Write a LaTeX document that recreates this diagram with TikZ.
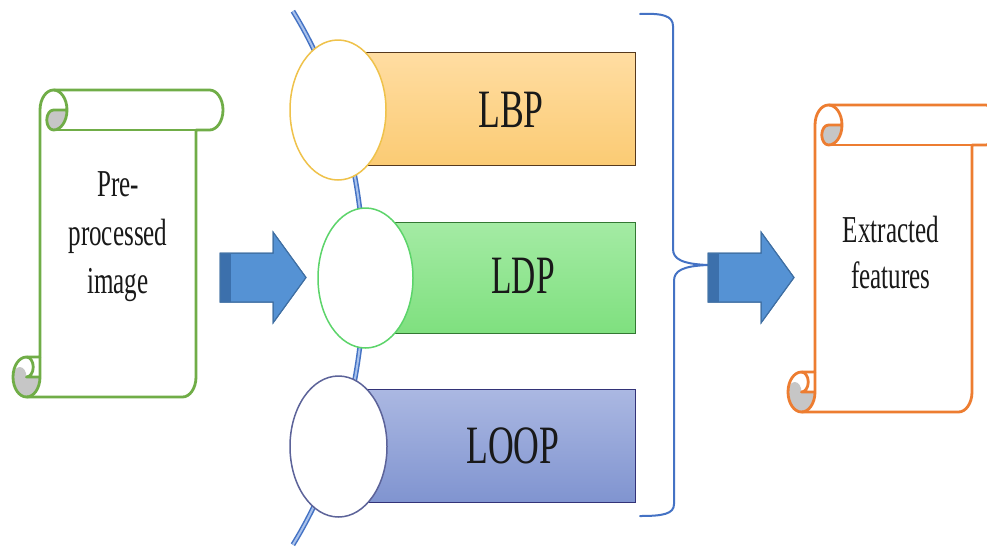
\documentclass[tikz,border=0pt]{standalone}
\usepackage{fontspec}
\setmainfont{Liberation Serif}
\usetikzlibrary{shapes.geometric}

\definecolor{scrollgreen}{HTML}{70AD47}
\definecolor{scrollorange}{HTML}{ED7D31}
\definecolor{curlgray}{HTML}{C6C6C6}
\definecolor{arrowblue}{HTML}{5592D4}
\definecolor{arrowedge}{HTML}{3F6FA3}
\definecolor{arrowdark}{HTML}{3C70AC}
\definecolor{listblue}{HTML}{4472C4}
\definecolor{listlight}{HTML}{A9C2EC}
\definecolor{lbptop}{HTML}{FFDDA2}
\definecolor{lbpbot}{HTML}{FBCB74}
\definecolor{ldptop}{HTML}{A4EBA4}
\definecolor{ldpbot}{HTML}{7FE07F}
\definecolor{looptop}{HTML}{ABB8E2}
\definecolor{loopbot}{HTML}{8094D0}
\definecolor{ringyellow}{HTML}{EFC24B}
\definecolor{ringgreen}{HTML}{5CD46A}
\definecolor{ringblue}{HTML}{5C6399}

\tikzset{
  scrollline/.style={draw=#1, line width=2.8pt, line join=round},
  ring/.style={ellipse, draw=#1, line width=1.5pt, fill=white, inner sep=0pt,
    minimum width=96pt, minimum height=140pt},
  listbar/.style n args={3}{draw=#1, line width=1pt, top color=#2, bottom color=#3},
  listlabel/.style={font=\fontsize{54}{60}\selectfont, inner sep=0pt, text=black!90},
  scrolltext/.style={font=\fontsize{38}{48.5}\selectfont, inner sep=0pt, text=black!90},
  blockarrow/.style={fill=arrowblue, draw=arrowedge, line width=1pt, line join=miter},
  bracket/.style={draw=listblue, line width=2pt, line cap=round},
}

% vertical scroll: left, top, width, height, colour (pixel units, y downwards)
\newcommand\drawscroll[5]{%
  \begin{scope}[shift={(#1,#2)}]
    \def\scrW{#3}\def\scrH{#4}%
    \def\scrA{27}\def\scrAh{13.5}\def\scrAq{6.75}%
    \def\scrC{40}\def\scrCh{20}\def\scrCq{10}%
    % paper
    \fill[white] (\scrAh,\scrH) arc[start angle=90,end angle=0,x radius=\scrAh,y radius=\scrCh]
      -- (\scrA,\scrCh) arc[start angle=180,end angle=270,x radius=\scrAh,y radius=\scrCh]
      -- (\scrW-\scrAh,0) arc[start angle=270,end angle=450,x radius=\scrAh,y radius=\scrCh]
      -- (\scrW-\scrA,\scrC) -- (\scrW-\scrA,\scrH-\scrCh)
      arc[start angle=0,end angle=90,x radius=\scrAh,y radius=\scrCh] -- cycle;
    \fill[white] (\scrAh,\scrH-\scrCh) ellipse[x radius=\scrAh,y radius=\scrCh];
    % shaded curls
    \fill[curlgray] (2*\scrA,\scrCh) arc[start angle=0,end angle=90,x radius=\scrAh,y radius=\scrCh]
      arc[start angle=90,end angle=270,x radius=\scrAq,y radius=\scrCq] -- cycle;
    \fill[curlgray] (\scrA,\scrH-\scrCh) arc[start angle=0,end angle=180,x radius=\scrAh,y radius=\scrCh]
      arc[start angle=180,end angle=360,x radius=\scrAq,y radius=\scrCq] -- cycle;
    % outline
    \draw[scrollline=#5] (\scrA,\scrH-\scrC) -- (\scrA,\scrCh)
      arc[start angle=180,end angle=270,x radius=\scrAh,y radius=\scrCh]
      -- (\scrW-\scrAh,0) arc[start angle=270,end angle=450,x radius=\scrAh,y radius=\scrCh]
      -- (\scrW-\scrA,\scrC) -- (\scrW-\scrA,\scrH-\scrCh)
      arc[start angle=0,end angle=90,x radius=\scrAh,y radius=\scrCh]
      -- (\scrAh,\scrH) arc[start angle=90,end angle=270,x radius=\scrAh,y radius=\scrCh] -- cycle;
    \draw[scrollline=#5] (1.5*\scrA,0) arc[start angle=270,end angle=450,x radius=\scrAh,y radius=\scrCh]
      arc[start angle=90,end angle=270,x radius=\scrAq,y radius=\scrCq] -- (2*\scrA,\scrCh);
    \draw[scrollline=#5] (\scrW-\scrA,\scrC) -- (1.5*\scrA,\scrC);
    \draw[scrollline=#5] (\scrAh,\scrH-\scrC) arc[start angle=270,end angle=450,x radius=\scrAq,y radius=\scrCq]
      -- (\scrA,\scrH-\scrCh);
    \draw[scrollline=#5] (\scrAh,\scrH) arc[start angle=90,end angle=0,x radius=\scrAh,y radius=\scrCh]
      -- (\scrA,\scrH-\scrC);
  \end{scope}}

% block arrow: left end, vertical centre
\newcommand\drawblockarrow[2]{%
  \filldraw[blockarrow] (#1,#2-24.5) -- (#1+53,#2-24.5) -- (#1+53,#2-45.5) -- (#1+86,#2)
    -- (#1+53,#2+45.5) -- (#1+53,#2+24.5) -- (#1,#2+24.5) -- cycle;
  \fill[arrowdark] (#1+0.5,#2-24) rectangle (#1+11,#2+24);
  \draw[blockarrow, fill=none] (#1,#2-24.5) -- (#1+53,#2-24.5) -- (#1+53,#2-45.5) -- (#1+86,#2)
    -- (#1+53,#2+45.5) -- (#1+53,#2+24.5) -- (#1,#2+24.5) -- cycle;}

\begin{document}
\begin{tikzpicture}[x=1pt, y=-1pt]
  \useasboundingbox (0,0) rectangle (987,547);
  \clip (0,0) rectangle (987,547);
  \fill[white] (0,0) rectangle (987,547);

  % input and output scrolls
  \drawscroll{13}{90}{210}{307}{scrollgreen}
  \drawscroll{788}{105}{211}{307}{scrollorange}
  \node[scrolltext] (prep) at (118,235.3)
    {\scalebox{0.66}[1]{\begin{tabular}{@{}c@{}}Pre-\\processed\\image\end{tabular}}};
  \node[scrolltext] (feat) at (891,255.8)
    {\scalebox{0.66}[1]{\fontsize{38}{46}\selectfont\begin{tabular}{@{}c@{}}Extracted\\features\end{tabular}}};

  % spine of the vertical circle list
  \draw[listblue, line width=1.5pt, double=listlight, double distance=2pt]
    (292.9,11.2) arc[start angle=-40, end angle=40, x radius=304, y radius=415];

  % bars
  \path[listbar={black!55!brown}{lbptop}{lbpbot}] (338,52) rectangle (635,165);
  \path[listbar={black!55!green!60!gray}{ldptop}{ldpbot}] (365.5,222) rectangle (635,333);
  \path[listbar={black!55!blue!60!gray}{looptop}{loopbot}] (338.5,389) rectangle (635,502);

  % circles
  \node[ring=ringyellow] (c1) at (338,110) {};
  \node[ring=ringgreen, minimum width=95pt] (c2) at (365.5,278) {};
  \node[ring=ringblue, minimum width=97pt, minimum height=141pt] (c3) at (338.5,446.5) {};

  % bar labels
  \node[listlabel, anchor=base] (lbp) at (511,127) {\scalebox{0.66}[1]{LBP}};
  \node[listlabel, anchor=base] (ldp) at (523,293) {\scalebox{0.62}[1]{LDP}};
  \node[listlabel, anchor=base] (loop) at (513,463) {\scalebox{0.66}[1]{LOOP}};

  % right brace gathering the three descriptors
  \coordinate (tip) at (708,265);
  \draw[bracket] (640,14) .. controls (663,13) and (673,16) .. (673,26) -- (673,249)
    .. controls (673,259) and (682,264) .. (tip)
    .. controls (682,266) and (674,271) .. (674,281) -- (674,504)
    .. controls (674,514) and (663,516) .. (640,516);

  % block arrows
  \drawblockarrow{220}{277.5}
  \drawblockarrow{708}{277.5}
\end{tikzpicture}
\end{document}
